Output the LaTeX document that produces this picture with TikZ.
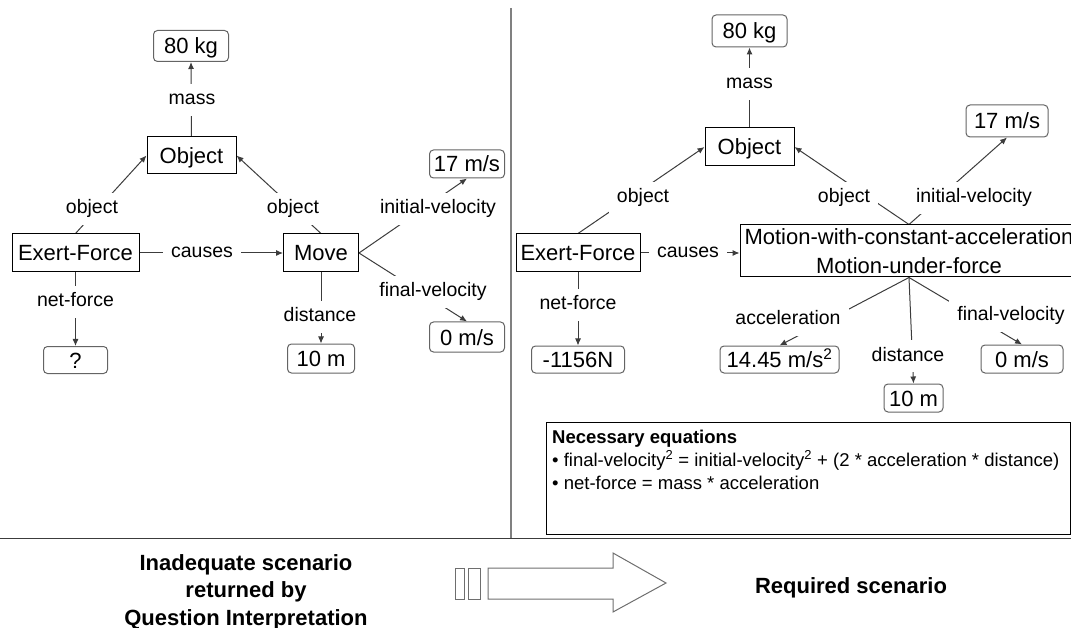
\documentclass[tikz,border=0pt]{standalone}
\usepackage{fontspec}
\setmainfont{Liberation Sans}
\usepackage{tikz}
\usetikzlibrary{arrows.meta}
\pgfdeclarelayer{background}
\pgfsetlayers{background,main}
\definecolor{linegray}{RGB}{60,60,60}
\definecolor{boxgray}{RGB}{100,100,100}
\definecolor{divgray}{RGB}{128,128,128}
\definecolor{arrowgray}{RGB}{110,110,110}

\begin{document}
\begin{tikzpicture}[x=1pt,y=-1pt,
  motionbox/.style={draw=black,line width=1pt,fill=white,inner sep=0pt,font=\fontsize{22}{29}\selectfont},
  conbox/.style={motionbox,text height=16pt,text depth=0pt},
  valbox/.style={draw=boxgray,line width=1pt,rounded corners=4pt,fill=white,inner sep=0pt,text height=16pt,text depth=0pt,font=\fontsize{22}{26}\selectfont},
  rellabel/.style={fill=white,inner xsep=8pt,inner ysep=7pt,text height=14pt,text depth=4pt,font=\fontsize{19.5}{23}\selectfont},
  rel/.style={draw=linegray,line width=1pt,-{Latex[length=7pt,width=6pt]}}]
\useasboundingbox (0,0) rectangle (1071,628);
\clip (0,0) rectangle (1071,628);
\node[valbox,minimum width=75,minimum height=31] (kgL) at (191,46) {80 kg};
\node[conbox,minimum width=89,minimum height=37] (objL) at (191.5,155.5) {Object};
\node[conbox,minimum width=127,minimum height=38] (exertL) at (75.5,253) {Exert-Force};
\node[conbox,minimum width=75,minimum height=38] (moveL) at (321,253) {Move};
\node[valbox,minimum width=75,minimum height=28] (iniL) at (467,164) {17 m/s};
\node[valbox,minimum width=75,minimum height=30] (finL) at (467,337) {0 m/s};
\node[valbox,minimum width=64,minimum height=27] (netL) at (75.5,360) {?};
\node[valbox,minimum width=67,minimum height=29] (distL) at (321,358.5) {10 m};
\node[rellabel] (lmassL) at (192,100) {mass};
\node[rellabel] (lobjAL) at (92,209) {object};
\node[rellabel] (lobjBL) at (293,209) {object};
\node[rellabel] (lcauseL) at (202,253) {causes};
\node[rellabel] (liniL) at (438,209) {initial-velocity};
\node[rellabel] (lfinL) at (433,292) {final-velocity};
\node[rellabel] (lnetL) at (75.5,302) {net-force};
\node[rellabel] (ldistL) at (320,317) {distance};
\node[valbox,minimum width=75,minimum height=32] (kgR) at (749.5,31) {80 kg};
\node[conbox,minimum width=89,minimum height=38] (objR) at (749.5,147) {Object};
\node[conbox,minimum width=124,minimum height=38] (exertR) at (578,253) {Exert-Force};
\node[motionbox,minimum width=338,minimum height=52,align=center] (motionR) at (909,251) {Motion-with-constant-acceleration\\Motion-under-force};
\node[valbox,minimum width=82,minimum height=32] (iniR) at (1007,121) {17 m/s};
\node[valbox,minimum width=93,minimum height=27] (netR) at (578,359.5) {-1156N};
\node[valbox,minimum width=119,minimum height=27] (accR) at (779.5,359.5) {14.45 m/s\textsuperscript{2}};
\node[valbox,minimum width=59,minimum height=28] (distR) at (913.5,398) {10 m};
\node[valbox,minimum width=82,minimum height=28] (finR) at (1022,359) {0 m/s};
\node[rellabel] (lmassR) at (749.5,84) {mass};
\node[rellabel] (lobjAR) at (643,198) {object};
\node[rellabel] (lobjBR) at (844,198) {object};
\node[rellabel] (lcauseR) at (688,253) {causes};
\node[rellabel] (liniR) at (974,198) {initial-velocity};
\node[rellabel] (lnetR) at (578,305) {net-force};
\node[rellabel] (laccR) at (788,320) {acceleration};
\node[rellabel] (ldistR) at (908,356) {distance};
\node[rellabel] (lfinR) at (1011,316) {final-velocity};
\begin{pgfonlayer}{background}
\draw[rel] (objL.north) -- (kgL.south);
\draw[rel] (exertL.north) -- (objL.west);
\draw[rel] (moveL.north) -- (objL.east);
\draw[rel] (exertL.east) -- (moveL.west);
\draw[rel] (moveL.east) -- (iniL.south);
\draw[rel] (moveL.east) -- (finL.north);
\draw[rel] (exertL.south) -- (netL.north);
\draw[rel] (moveL.south) -- (distL.north);
\draw[rel] (objR.north) -- (kgR.south);
\draw[rel] (exertR.north) -- (objR.west);
\draw[rel] (motionR.north) -- (objR.east);
\draw[rel] (exertR.east) -- (exertR.east -| motionR.west);
\draw[rel] (motionR.north) -- (iniR.south);
\draw[rel] (exertR.south) -- (netR.north);
\draw[rel] (motionR.south) -- (accR.north);
\draw[rel] (motionR.south) -- (distR.north);
\draw[rel] (motionR.south) -- (finR.north);
\end{pgfonlayer}
\draw[divgray,line width=1.2pt] (511,8) -- (511,538.5);
\draw[linegray,line width=1pt] (0,538.5) -- (1071,538.5);
\node[draw=black,line width=1pt,minimum width=524,minimum height=112,inner sep=0pt,anchor=north west] (eqbox) at (546,422) {};
\node[anchor=north west,align=left,inner sep=0pt,font=\fontsize{18.5}{23}\selectfont] (eqtext) at ([xshift=6,yshift=-7.5]eqbox.north west) {\textbf{Necessary equations}\\
• final-velocity\textsuperscript{2} = initial-velocity\textsuperscript{2} + (2 * acceleration * distance)\\
• net-force = mass * acceleration};
\node[align=center,font=\bfseries\fontsize{22}{27.5}\selectfont] (inadequate) at (246,592) {Inadequate scenario\\returned by\\Question Interpretation};
\node[font=\bfseries\fontsize{22}{27}\selectfont] (required) at (851,588) {Required scenario};
\draw[arrowgray,line width=1pt] (455,568) rectangle (464,599);
\draw[arrowgray,line width=1pt] (468,568) rectangle (480,599);
\draw[arrowgray,line width=1pt] (488,568) -- (613,568) -- (613,553) -- (666,583) -- (613,612) -- (613,599) -- (488,599) -- cycle;
\end{tikzpicture}
\end{document}
